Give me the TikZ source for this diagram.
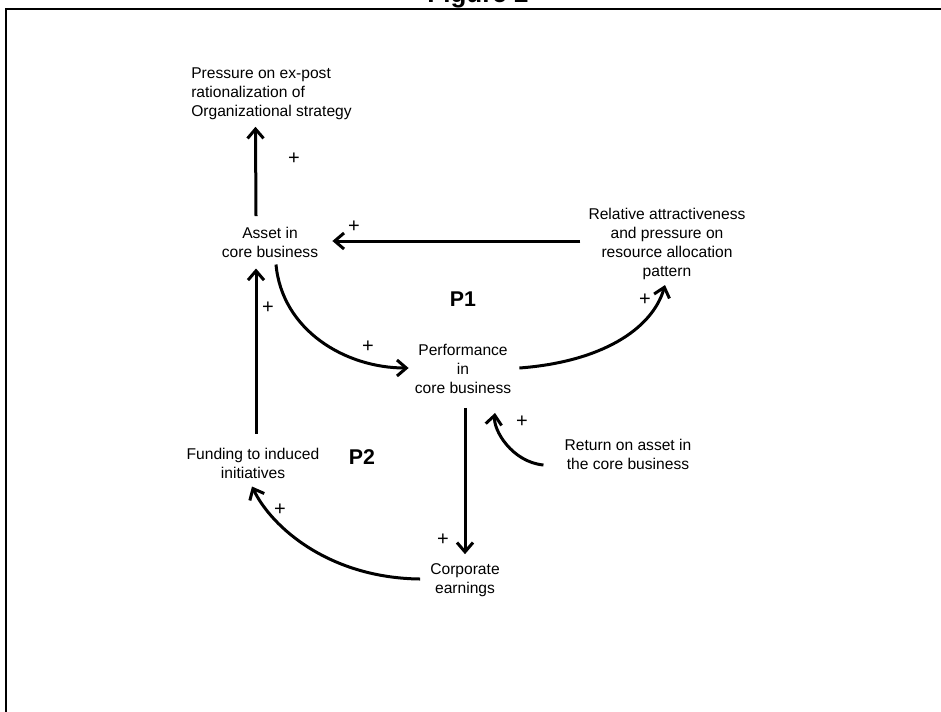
\documentclass[tikz,border=0pt]{standalone}
\usepackage{fontspec}
\setmainfont{Liberation Sans}
\usetikzlibrary{arrows.meta,calc}
\begin{document}
\begin{tikzpicture}[x=0.75pt,y=-0.75pt,
  lbl/.style={font=\fontsize{11.7pt}{14.25pt}\selectfont, inner sep=0pt, align=center},
  plus/.style={font=\fontsize{15pt}{16pt}\selectfont, inner sep=0pt},
  pbig/.style={font=\fontsize{16pt}{18pt}\selectfont\bfseries, inner sep=0pt},
  arr/.style={line width=2.25pt, -{Straight Barb[length=7pt,width=12pt,line width=2.25pt]}}]
\useasboundingbox (0,0) rectangle (941,711);
\clip (0,0) rectangle (941,711);
\draw[line width=2pt] (6,9) rectangle (990,760);
\node[font=\fontsize{19.5pt}{22pt}\selectfont\bfseries, anchor=base, inner sep=0pt] (title) at (478,2) {Figure 2};

\node[lbl, align=left, anchor=west] (pressure) at (191,94) {Pressure on ex-post\\rationalization of\\Organizational strategy};
\node[lbl] (asset) at (270,242.5) {Asset in\\core business};
\node[lbl] (rel) at (667,244) {Relative attractiveness\\and pressure on\\resource allocation\\pattern};
\node[lbl] (perf) at (463,369) {Performance\\in\\core business};
\node[lbl] (corp) at (465,580) {Corporate\\earnings};
\node[lbl] (fund) at (253,463) {Funding to induced\\initiatives};
\node[lbl] (ret) at (628,454) {Return on asset in\\the core business};
\node[pbig] (P1) at (463,299) {P1};
\node[pbig] (P2) at (362,457) {P2};

\node[plus] (s1) at (294,159) {+};
\node[plus] (s2) at (354,227) {+};
\node[plus] (s3) at (645,300) {+};
\node[plus] (s4) at (368,347) {+};
\node[plus] (s5) at (268,308) {+};
\node[plus] (s6) at (443,540) {+};
\node[plus] (s7) at (280,510) {+};
\node[plus] (s8) at (522,422) {+};

% straight connectors
\draw[arr] ($(asset.north)+(-14,-11)$) -- ($(pressure.south)+(-16,6.5)$);
\draw[arr] ($(rel.west)+(-8,-3)$) -- ($(asset.east)+(14,-1.5)$);
\draw[arr] ($(fund.north)+(3,-14)$) -- ($(asset.south)+(-14,10.5)$);
\draw[arr] ($(perf.south)+(2,14)$) -- ($(corp.north)+(0,-9)$);
% curved connectors
\draw[arr] ($(asset.south)+(6,6.5)$) .. controls (282,330) and (345,368) .. ($(perf.west)+(-6,-1)$);
\draw[arr] ($(perf.east)+(8,-1)$) .. controls (600,362) and (652,330) .. ($(rel.south)+(-2,5)$);
\draw[arr] ($(ret.west)+(-21,11)$) .. controls (512,462) and (493,430) .. ($(perf.south)+(32,19)$);
\draw[arr] ($(corp.west)+(-10,-1)$) .. controls (330,578) and (272,528) .. ($(fund.south)+(-1,8)$);
\end{tikzpicture}
\end{document}
